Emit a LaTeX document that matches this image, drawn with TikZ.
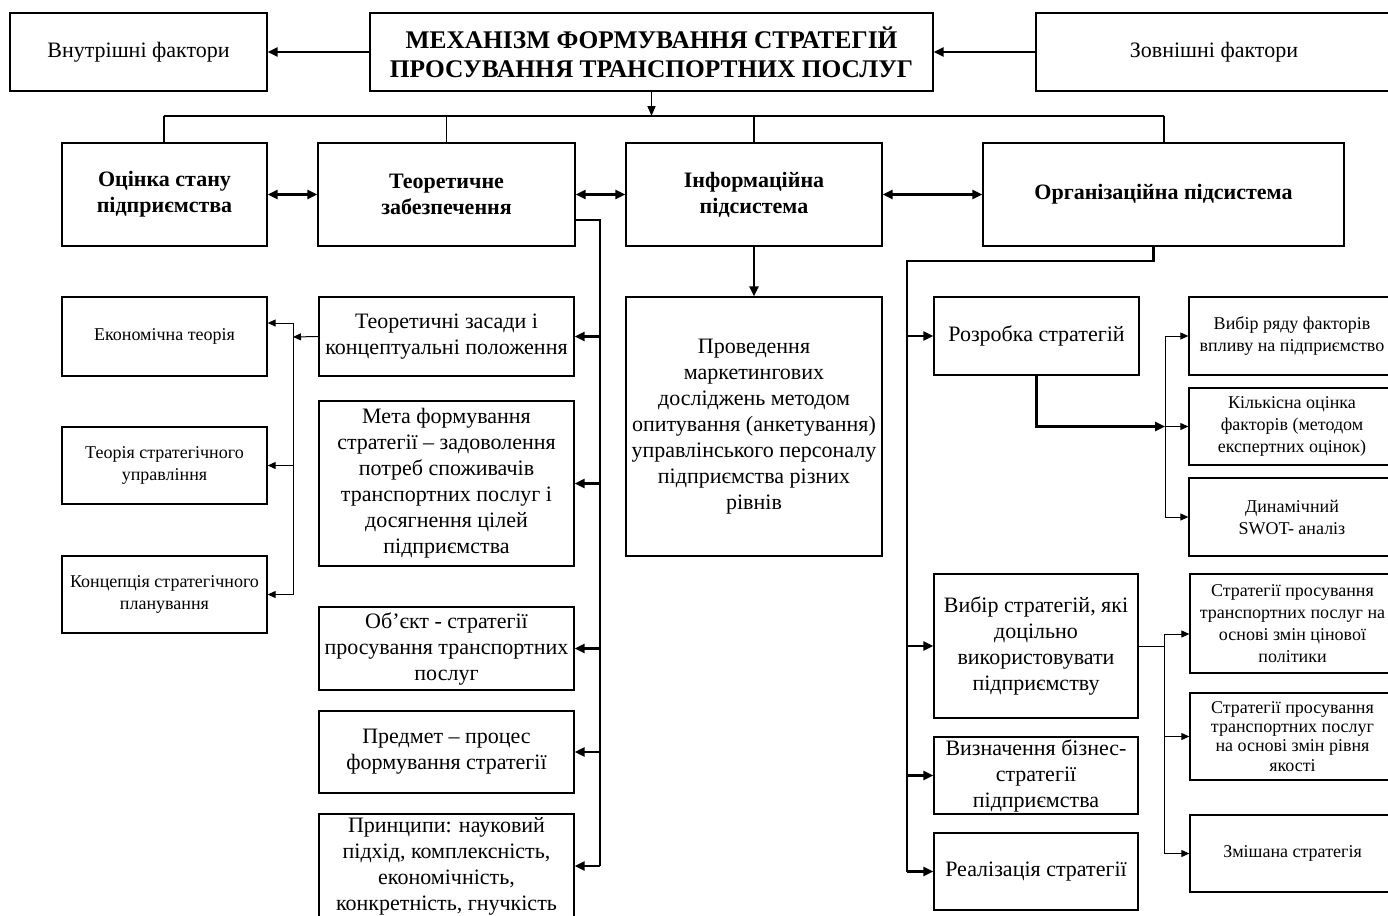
\documentclass[tikz,border=0pt]{standalone}
\usepackage{fontspec}
\setmainfont{Liberation Serif}
\usetikzlibrary{arrows.meta,calc}
\newcommand\bx[7]{\node[box,#2,minimum width={(#5-#3)*0.5pt},minimum height={(#6-#4)*0.5pt}] (#1) at ({(#3+#5)/2},{(#4+#6)/2}) {#7};}
\begin{document}
\begin{tikzpicture}[x=0.5pt,y=-0.5pt,
  box/.style={draw, line width=0.65pt, inner sep=0pt, align=center},
  bigf/.style={font=\fontsize{11}{13}\selectfont},
  boldf/.style={font=\fontsize{11}{13}\selectfont\bfseries},
  titlef/.style={font=\fontsize{12.7}{14.5}\selectfont\bfseries},
  smallf/.style={font=\fontsize{9}{11}\selectfont},
  tightf/.style={font=\fontsize{9}{9.6}\selectfont},
  thk/.style={line width=1.2pt},
  med/.style={line width=0.8pt},
  thn/.style={line width=0.5pt},
  thkar/.style={thk, -{Triangle[length=5pt,width=4.5pt]}},
  dblar/.style={thk, {Triangle[length=5pt,width=4.5pt]}-{Triangle[length=5pt,width=4.5pt]}},
  thnar/.style={thn, -{Triangle[length=4pt,width=3.5pt]}}
]
\clip (0,0) rectangle (1388,916);
\fill[white] (0,0) rectangle (1388,916);

% top row
\bx{vnut}{bigf}{10}{13}{267}{91}{Внутрішні фактори}
\bx{title}{titlef}{370}{13}{933}{91}{МЕХАНІЗМ ФОРМУВАННЯ СТРАТЕГІЙ\\ПРОСУВАННЯ ТРАНСПОРТНИХ ПОСЛУГ}
\bx{zovn}{bigf}{1036}{13}{1392}{91}{Зовнішні фактори}

% second row
\bx{ocin}{boldf}{62}{143}{267}{246}{Оцінка стану\\підприємства}
\bx{teor}{boldf}{318}{143}{575}{246}{Теоретичне\\забезпечення}
\bx{inf}{boldf}{626}{143}{882}{246}{Інформаційна\\підсистема}
\bx{org}{boldf}{983}{143}{1344}{246}{Організаційна підсистема}

% left column
\bx{ekon}{smallf}{62}{297}{267}{376}{Економічна теорія}
\bx{teorS}{smallf}{62}{427}{267}{504}{Теорія стратегічного\\управління}
\bx{konc}{smallf}{62}{556}{267}{633}{Концепція стратегічного\\планування}

% middle column
\bx{zas}{bigf}{319}{297}{574}{376}{Теоретичні засади і\\концептуальні положення}
\bx{meta}{bigf}{319}{401}{574}{566}{Мета формування\\стратегії – задоволення\\потреб споживачів\\транспортних послуг і\\досягнення цілей\\підприємства}
\bx{obj}{bigf}{319}{607}{574}{690}{Об'єкт - стратегії\\просування транспортних\\послуг}
\bx{pred}{bigf}{319}{711}{574}{793}{Предмет – процес\\формування стратегії}
\bx{prin}{bigf}{319}{814}{574}{918}{Принципи: науковий\\підхід, комплексність,\\економічність,\\конкретність, гнучкість}

% information
\bx{prov}{bigf}{626}{297}{882}{556}{Проведення\\маркетингових\\досліджень методом\\опитування (анкетування)\\управлінського персоналу\\підприємства різних\\рівнів}

% organisation
\bx{rozr}{bigf}{934}{297}{1139}{375}{Розробка стратегій}
\bx{vyb}{bigf}{934}{574}{1138}{718}{Вибір стратегій, які\\доцільно\\використовувати\\підприємству}
\bx{vyzn}{bigf}{934}{737}{1138}{814}{Визначення бізнес-\\стратегії\\підприємства}
\bx{real}{bigf}{934}{833}{1138}{910}{Реалізація стратегії}

% far right
\bx{f1}{smallf}{1189}{297}{1395}{375}{Вибір ряду факторів\\впливу на підприємство}
\bx{f2}{smallf}{1189}{388}{1395}{465}{Кількісна оцінка\\факторів (методом\\експертних оцінок)}
\bx{f3}{smallf}{1189}{478}{1395}{556}{Динамічний\\SWOT- аналіз}
\bx{sA}{smallf}{1190}{574}{1395}{673}{Стратегії просування\\транспортних послуг на\\основі змін цінової\\політики}
\bx{sB}{tightf}{1190}{693}{1395}{780}{Стратегії просування\\транспортних послуг\\на основі змін рівня\\якості}
\bx{sC}{smallf}{1190}{815}{1395}{892}{Змішана стратегія}

% top connectors
\draw[thkar] (title.west) -- (vnut.east);
\draw[thkar] (zovn.west) -- (title.east);
\coordinate (busL) at (164,116);
\coordinate (busR) at (1164,116);
\draw[thk] (busL) -- (busR);
\draw[med,-{Triangle[length=5pt,width=4pt]}] (title.south) -- (title.south |- busL);
\draw[med] (busL) -- (busL |- ocin.north);
\draw[med] (teor.north |- busL) -- (teor.north);
\draw[med] (inf.north |- busL) -- (inf.north);
\draw[med] (busR) -- (busR |- org.north);
\draw[dblar] (ocin.east) -- (teor.west);
\draw[dblar] (teor.east) -- (inf.west);
\draw[dblar] (inf.east) -- (org.west);

% theoretical branch
\coordinate (tv) at (600,220);
\draw[thk] (teor.east |- tv) -- (tv) -- (tv |- prin.east);
\foreach \n in {zas,meta,obj,pred,prin} \draw[thkar] (tv |- \n.east) -- (\n.east);

% left thin branch
\coordinate (lv) at (293,337);
\draw[thnar] (zas.west) -- (lv);
\coordinate (lvt) at (293,323);
\draw[thn] (lvt) -- (lvt |- konc.east);
\draw[thnar] (lvt) -- (lvt -| ekon.east);
\draw[thnar] (lvt |- teorS.east) -- (teorS.east);
\draw[thnar] (lvt |- konc.east) -- (konc.east);

% information branch
\draw[thkar] (inf.south) -- (prov.north);

% organisation branch
\coordinate (orgd) at ($(org.south)+(-10,0)$);
\coordinate (ov) at (907,261);
\draw[thk] (orgd) -- (orgd |- ov) -- (ov) -- (ov |- real.west);
\foreach \n in {rozr,vyb,vyzn,real} \draw[thkar] (ov |- \n.west) -- (\n.west);

% development branch
\coordinate (rv) at (1165,337);
\draw[thkar] (rozr.south) |- (rv |- f2.west);
\draw[thn] (rv) -- (rv |- f3.west);
\foreach \n in {f1,f2,f3} \draw[thnar] (rv |- \n.west) -- (\n.west);

% choice branch
\coordinate (wv) at (1164,634);
\draw[thn] (vyb.east) -- (vyb.east -| wv);
\draw[thn] (wv) -- (wv |- sC.west);
\draw[thnar] (wv) -- (wv -| sA.west);
\draw[thnar] (wv |- sB.west) -- (sB.west);
\draw[thnar] (wv |- sC.west) -- (sC.west);
\end{tikzpicture}
\end{document}
